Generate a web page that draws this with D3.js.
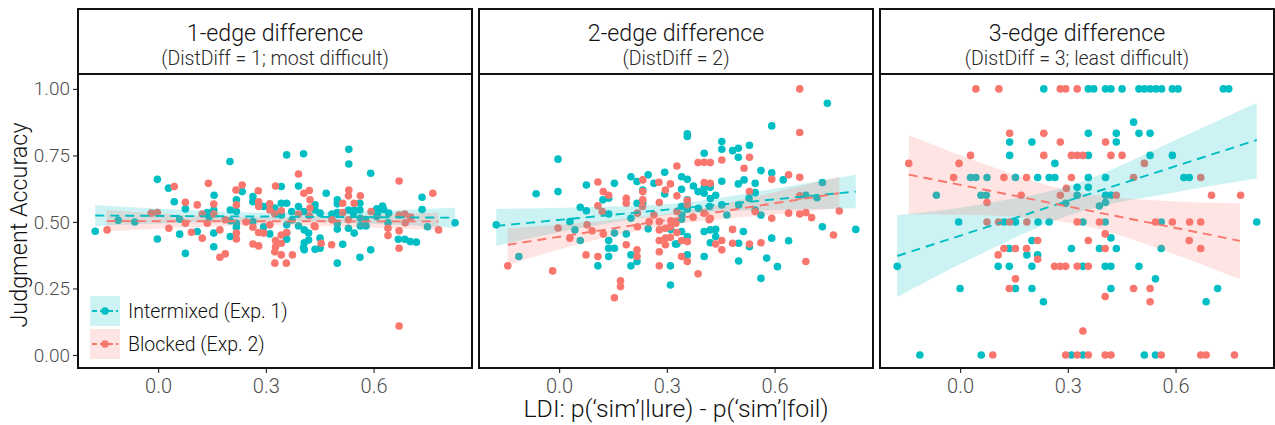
<!DOCTYPE html>
<html>
<head>
<meta charset="utf-8">
<script src="https://cdn.jsdelivr.net/npm/d3@7"></script>
<style>
  body { margin: 0; background: #fff; }
  svg text { font-family: Roboto, "Liberation Sans", sans-serif; font-weight: 300; }
</style>
</head>
<body>
<div id="chart"></div>
<script>
// ---- data ----
const panelTitles = ['1-edge difference', '2-edge difference', '3-edge difference'];
const panelSubtitles = ['(DistDiff = 1; most difficult)', '(DistDiff = 2)', '(DistDiff = 3; least difficult)'];
const seriesNames = ['Intermixed (Exp. 1)', 'Blocked (Exp. 2)'];
const xTicks = [0, 0.3, 0.6];
const yTicks = [0, 0.25, 0.5, 0.75, 1];

// [LDI, accuracy]
const p1Intermixed = [
  [-0.002,0.66],[0.029,0.627],[0.20,0.727],[0.156,0.60],[0.234,0.614],[0.264,0.595],[0.343,0.633],[0.358,0.752],
  [0.405,0.756],[0.391,0.635],[0.468,0.608],[0.531,0.773],[0.531,0.718],[0.592,0.683],[0.735,0.593],[0.045,0.576],
  [0.076,0.549],[0.155,0.545],[0.137,0.535],[0.142,0.518],[0.201,0.545],[0.218,0.539],[0.218,0.583],[0.264,0.576],
  [0.294,0.558],[0.325,0.552],[-0.175,0.465],[-0.111,0.506],[-0.065,0.50],[-0.002,0.436],[0.06,0.454],[0.109,0.464],
  [0.076,0.382],[0.155,0.458],[0.155,0.407],[0.201,0.445],[0.218,0.48],[0.218,0.495],[0.201,0.504],[0.264,0.501],
  [0.294,0.482],[0.311,0.455],[0.06,0.51],[0.735,0.547],[0.358,0.57],[0.372,0.539],[0.391,0.558],[0.406,0.539],
  [0.437,0.564],[0.437,0.545],[0.451,0.533],[0.484,0.53],[0.499,0.535],[0.358,0.489],[0.391,0.485],[0.499,0.583],
  [0.499,0.568],[0.562,0.57],[0.53,0.545],[0.546,0.545],[0.562,0.545],[0.609,0.549],[0.625,0.56],[0.827,0.497],
  [0.687,0.435],[0.719,0.424],[0.64,0.497],[0.563,0.485],[0.579,0.485],[0.546,0.458],[0.592,0.395],[0.562,0.367],
  [0.499,0.345],[0.514,0.416],[0.451,0.439],[0.451,0.401],[0.53,0.476],[0.499,0.473],[0.419,0.458],[0.419,0.432],
  [0.407,0.422],[0.407,0.395],[0.407,0.47],[0.343,0.57],[0.499,0.495],[0.577,0.508],[0.609,0.52],[0.544,0.533],
  [0.563,0.514],[0.628,0.547],[0.642,0.533],[0.611,0.533],[0.669,0.435],[0.702,0.426],[0.75,0.482],[0.358,0.458],
  [0.358,0.435],[0.405,0.403],[0.437,0.397],[0.343,0.526],[0.373,0.507]
];
const p1Blocked = [
  [0.045,0.633],[0.14,0.645],[0.217,0.62],[0.234,0.639],[0.279,0.617],[0.327,0.635],[0.391,0.68],[0.406,0.608],
  [0.421,0.618],[0.531,0.62],[0.563,0.598],[0.671,0.654],[0.765,0.608],[0.076,0.574],[0.109,0.564],[0.155,0.567],
  [0.155,0.53],[0.123,0.53],[0.218,0.564],[0.28,0.576],[0.28,0.558],[0.311,0.568],[0.311,0.545],[0.325,0.53],
  [-0.019,0.533],[-0.002,0.535],[-0.142,0.47],[0.03,0.476],[0.076,0.495],[0.093,0.461],[0.123,0.439],[0.137,0.495],
  [0.172,0.47],[0.172,0.367],[0.187,0.38],[0.218,0.436],[0.218,0.458],[0.187,0.508],[0.264,0.48],[0.264,0.417],
  [0.28,0.41],[0.28,0.46],[0.294,0.458],[0.311,0.489],[0.325,0.388],[0.325,0.345],[0.327,0.43],[0.343,0.376],
  [0.357,0.345],[0.374,0.376],[0.327,0.407],[0.421,0.523],[0.437,0.482],[0.454,0.42],[0.483,0.414],[0.53,0.508],
  [0.484,0.508],[0.514,0.535],[0.514,0.57],[0.546,0.57],[0.53,0.598],[0.593,0.539],[0.671,0.526],[0.687,0.53],
  [0.703,0.518],[0.781,0.47],[0.671,0.467],[0.671,0.401],[0.64,0.476],[0.64,0.449],[0.435,0.485],[0.423,0.583],
  [0.423,0.552],[0.391,0.53],[0.343,0.542],[0.343,0.451],[0.358,0.46],[0.343,0.42],[0.671,0.109],[0.688,0.497],
  [0.245,0.50]
];

const p2Intermixed = [
  [-0.003,0.736],[-0.064,0.606],[-0.003,0.614],[-0.175,0.489],[0.076,0.639],[0.059,0.555],[0.076,0.542],[0.03,0.501],
  [0.154,0.645],[0.122,0.583],[0.138,0.589],[0.138,0.53],[0.2,0.67],[0.217,0.652],[0.248,0.677],[0.233,0.62],
  [0.233,0.57],[0.217,0.57],[0.264,0.645],[0.294,0.687],[0.294,0.605],[0.2,0.514],[0.044,0.47],[0.059,0.43],
  [-0.112,0.37],[0.154,0.458],[0.138,0.43],[0.138,0.401],[0.154,0.401],[0.138,0.37],[0.187,0.455],[0.2,0.376],
  [0.217,0.351],[0.2,0.335],[0.248,0.474],[0.108,0.335],[0.31,0.263],[0.324,0.417],[0.31,0.335],[0.324,0.501],
  [0.747,0.946],[0.592,0.861],[0.357,0.831],[0.357,0.821],[0.453,0.802],[0.453,0.773],[0.483,0.768],[0.499,0.777],
  [0.53,0.788],[0.499,0.743],[0.404,0.758],[0.341,0.67],[0.357,0.66],[0.374,0.635],[0.341,0.623],[0.404,0.63],
  [0.404,0.608],[0.421,0.63],[0.421,0.588],[0.436,0.60],[0.387,0.614],[0.453,0.653],[0.499,0.643],[0.515,0.658],
  [0.546,0.645],[0.546,0.61],[0.562,0.693],[0.592,0.685],[0.624,0.658],[0.341,0.558],[0.357,0.583],[0.357,0.548],
  [0.419,0.558],[0.453,0.564],[0.529,0.589],[0.5,0.564],[0.467,0.526],[0.546,0.545],[0.562,0.526],[0.733,0.648],
  [0.687,0.60],[0.718,0.591],[0.733,0.482],[0.826,0.472],[0.341,0.51],[0.404,0.464],[0.421,0.47],[0.436,0.472],
  [0.436,0.445],[0.357,0.445],[0.341,0.464],[0.421,0.422],[0.513,0.464],[0.5,0.42],[0.53,0.407],[0.592,0.439],
  [0.639,0.429],[0.328,0.417],[0.357,0.376],[0.404,0.37],[0.5,0.353],[0.578,0.364],[0.608,0.332],[0.562,0.288],
  [0.311,0.472],[0.342,0.526],[0.388,0.551]
];
const p2Blocked = [
  [-0.143,0.335],[-0.018,0.316],[-0.003,0.477],[0.03,0.439],[0.075,0.376],[0.108,0.37],[0.108,0.561],[0.108,0.65],
  [0.123,0.614],[0.138,0.60],[0.078,0.489],[0.092,0.467],[0.123,0.455],[0.187,0.589],[0.187,0.57],[0.233,0.658],
  [0.233,0.614],[0.233,0.583],[0.278,0.649],[0.279,0.573],[0.31,0.643],[0.296,0.62],[0.264,0.526],[0.279,0.501],
  [0.296,0.476],[0.279,0.47],[0.31,0.482],[0.31,0.442],[0.296,0.439],[0.187,0.414],[0.217,0.395],[0.217,0.37],
  [0.279,0.43],[0.296,0.414],[0.279,0.388],[0.279,0.335],[0.171,0.279],[0.171,0.257],[0.154,0.215],[0.12,0.539],
  [0.218,0.482],[0.218,0.533],[0.232,0.558],[0.251,0.501],[0.418,0.508],[0.67,1.0],[0.67,0.836],[0.387,0.723],
  [0.404,0.724],[0.421,0.723],[0.453,0.733],[0.53,0.743],[0.515,0.702],[0.328,0.71],[0.404,0.648],[0.421,0.645],
  [0.53,0.614],[0.592,0.66],[0.639,0.677],[0.67,0.668],[0.328,0.598],[0.357,0.58],[0.357,0.564],[0.328,0.539],
  [0.373,0.518],[0.404,0.533],[0.421,0.514],[0.546,0.539],[0.592,0.514],[0.639,0.533],[0.67,0.53],[0.687,0.535],
  [0.703,0.516],[0.67,0.598],[0.78,0.541],[0.764,0.451],[0.328,0.46],[0.341,0.43],[0.357,0.426],[0.341,0.37],
  [0.357,0.351],[0.387,0.305],[0.436,0.417],[0.453,0.43],[0.453,0.395],[0.483,0.472],[0.483,0.42],[0.53,0.417],
  [0.562,0.422],[0.687,0.351],[0.311,0.504],[0.325,0.495]
];

const p3Intermixed = [
  [0.233,1],[0.357,1],[0.372,1],[0.405,1],[0.42,1],[0.451,1],[0.498,1],[0.513,1],[0.529,1],[0.545,1],[0.561,1],
  [0.591,1],[0.607,1],[0.733,1],[0.748,1],
  [0.483,0.875],[0.357,0.833],[0.435,0.833],[0.498,0.833],[0.529,0.833],
  [0.138,0.80],[0.2,0.80],[0.435,0.80],
  [0.138,0.75],[0.357,0.75],[0.529,0.75],[0.591,0.75],[0.264,0.72],
  [0.029,0.667],[0.044,0.667],[0.075,0.667],[0.154,0.667],[0.216,0.667],[0.248,0.667],[0.264,0.667],[0.357,0.667],
  [0.405,0.667],[0.623,0.667],[0.638,0.667],
  [0.326,0.63],[0.357,0.63],
  [-0.066,0.60],[0.058,0.60],[0.073,0.60],[0.326,0.60],[0.405,0.60],[0.42,0.60],
  [0.294,0.57],[0.405,0.573],[0.388,0.56],
  [-0.004,0.5],[0.123,0.5],[0.154,0.5],[0.217,0.5],[0.248,0.5],[0.342,0.5],[0.404,0.5],[0.56,0.5],[0.826,0.5],
  [0.2,0.43],[0.42,0.44],
  [0.137,0.4],[0.31,0.4],[0.388,0.4],[0.435,0.4],[0.56,0.4],
  [0.186,0.376],[0.216,0.376],
  [-0.175,0.333],[0.106,0.333],[0.137,0.333],[0.2,0.333],[0.342,0.333],[0.404,0.333],[0.42,0.333],[0.498,0.333],
  [0.544,0.286],
  [0,0.25],[0.154,0.25],[0.2,0.25],[0.42,0.25],[0.717,0.25],
  [0.232,0.2],[0.685,0.2],
  [-0.112,0],[0.059,0],[0.31,0],[0.342,0],[0.513,0],[0.544,0]
];
const p3Blocked = [
  [0.044,1],[0.108,1],[0.279,1],[0.294,1],[0.326,1],
  [0.138,0.833],[0.233,0.833],
  [0.279,0.80],[0.405,0.80],
  [0.029,0.75],[0.233,0.75],[0.31,0.75],[0.326,0.75],[0.342,0.75],[0.42,0.75],[0.451,0.75],
  [-0.143,0.72],[-0.003,0.72],[0.513,0.72],
  [-0.018,0.667],[0.122,0.667],[0.185,0.667],[0.31,0.667],[0.483,0.667],[0.67,0.667],
  [0.296,0.626],
  [0.17,0.6],[0.279,0.6],[0.435,0.6],[0.70,0.6],[0.781,0.6],
  [0.075,0.573],
  [0.075,0.5],[0.107,0.5],[0.138,0.5],[0.186,0.5],[0.326,0.5],[0.388,0.5],[0.544,0.5],[0.591,0.5],[0.639,0.5],[0.67,0.5],
  [0.404,0.455],[0.357,0.43],[0.638,0.43],[0.216,0.43],
  [0.122,0.4],[0.154,0.4],[0.185,0.4],[0.404,0.4],[0.67,0.4],
  [0.106,0.376],[0.216,0.36],
  [0.263,0.333],[0.279,0.333],[0.294,0.333],[0.326,0.333],[0.357,0.333],
  [0.154,0.286],
  [0.137,0.25],[0.483,0.25],[0.529,0.25],
  [0.404,0.22],[0.529,0.2],[0.342,0.09],
  [0.091,0],[0.294,0],[0.326,0],[0.357,0],[0.404,0],[0.42,0],[0.56,0],[0.67,0],[0.685,0],[0.764,0]
];

// linear fits with confidence band: [LDI, fit, lower, upper]
const p1IntermixedFit = [[-0.175,0.524,0.485,0.564],[0.05,0.522,0.497,0.547],[0.3,0.52,0.505,0.535],[0.55,0.518,0.496,0.540],[0.827,0.516,0.478,0.553]];
const p1BlockedFit = [[-0.143,0.503,0.464,0.545],[0.05,0.503,0.478,0.528],[0.3,0.503,0.488,0.517],[0.55,0.502,0.48,0.524],[0.78,0.502,0.47,0.535]];
const p2IntermixedFit = [[-0.175,0.485,0.41,0.549],[0.05,0.514,0.474,0.554],[0.33,0.55,0.53,0.57],[0.6,0.585,0.545,0.625],[0.826,0.614,0.551,0.677]];
const p2BlockedFit = [[-0.143,0.414,0.338,0.476],[0.05,0.455,0.415,0.495],[0.33,0.514,0.492,0.536],[0.6,0.57,0.528,0.612],[0.78,0.608,0.551,0.67]];
const p3IntermixedFit = [[-0.175,0.372,0.218,0.525],[0.05,0.47,0.375,0.565],[0.32,0.588,0.533,0.643],[0.6,0.71,0.612,0.808],[0.826,0.808,0.663,0.948]];
const p3BlockedFit = [[-0.143,0.678,0.529,0.827],[0.05,0.626,0.526,0.726],[0.32,0.553,0.493,0.613],[0.6,0.477,0.377,0.577],[0.779,0.429,0.285,0.57]];

// ---- layout ----
const W = 1275, H = 425;
const colors = ['#00BFC4', '#F8766D'];
const panelLefts = [78, 479, 880];
const panelWidth = 394;
const stripTop = 9, plotTop = 74, plotBottom = 368;

const panels = [
  { title: panelTitles[0], sub: panelSubtitles[0], series: [p1Intermixed, p1Blocked], fits: [p1IntermixedFit, p1BlockedFit] },
  { title: panelTitles[1], sub: panelSubtitles[1], series: [p2Intermixed, p2Blocked], fits: [p2IntermixedFit, p2BlockedFit] },
  { title: panelTitles[2], sub: panelSubtitles[2], series: [p3Intermixed, p3Blocked], fits: [p3IntermixedFit, p3BlockedFit] }
];

const svg = d3.select('#chart').append('svg')
  .attr('width', W).attr('height', H);

const y = d3.scaleLinear().domain([-0.049, 1.056]).range([plotBottom, plotTop]);

panels.forEach((p, i) => {
  const left = panelLefts[i];
  const x = d3.scaleLinear().domain([-0.223, 0.874]).range([left, left + panelWidth]);
  const g = svg.append('g');

  g.append('clipPath').attr('id', `clip${i}`)
    .append('rect')
    .attr('x', left).attr('y', plotTop)
    .attr('width', panelWidth).attr('height', plotBottom - plotTop);

  const plot = g.append('g').attr('clip-path', `url(#clip${i})`);

  // Points
  p.series.forEach((pts, s) => {
    plot.selectAll(`.pt${s}`)
      .data(pts)
      .enter()
      .append('circle')
      .attr('cx', d => x(d[0]))
      .attr('cy', d => y(d[1]))
      .attr('r', 3.8)
      .attr('fill', colors[s]);
  });

  // Confidence bands
  p.fits.forEach((f, s) => {
    plot.append('path')
      .datum(f)
      .attr('d', d3.area()
        .x(d => x(d[0]))
        .y0(d => y(d[2]))
        .y1(d => y(d[3]))
        .curve(d3.curveMonotoneX))
      .attr('fill', colors[s])
      .attr('fill-opacity', 0.2);
  });

  // Fit lines
  p.fits.forEach((f, s) => {
    plot.append('path')
      .datum([f[0], f[f.length - 1]])
      .attr('d', d3.line().x(d => x(d[0])).y(d => y(d[1])))
      .attr('fill', 'none')
      .attr('stroke', colors[s])
      .attr('stroke-width', 1.9)
      .attr('stroke-dasharray', '9,6');
  });

  // Panel border
  g.append('rect')
    .attr('x', left).attr('y', plotTop)
    .attr('width', panelWidth).attr('height', plotBottom - plotTop)
    .attr('fill', 'none').attr('stroke', '#111').attr('stroke-width', 2);

  // Strip
  g.append('rect')
    .attr('x', left).attr('y', stripTop)
    .attr('width', panelWidth).attr('height', plotTop - stripTop)
    .attr('fill', '#fff').attr('stroke', '#111').attr('stroke-width', 2);

  g.append('text')
    .attr('x', left + panelWidth / 2).attr('y', 41)
    .attr('text-anchor', 'middle')
    .style('font-size', '23.2px').style('fill', '#111')
    .text(p.title);

  g.append('text')
    .attr('x', left + panelWidth / 2).attr('y', 65)
    .attr('text-anchor', 'middle')
    .style('font-size', '19.5px').style('fill', '#2a2a2a')
    .text(p.sub);

  // X axis
  const xAxis = g.append('g')
    .attr('transform', `translate(0,${plotBottom + 1})`)
    .call(d3.axisBottom(x).tickValues(xTicks).tickFormat(d3.format('.1f')).tickSizeOuter(0).tickSize(4).tickPadding(6));
  xAxis.select('.domain').remove();
  xAxis.selectAll('.tick line').attr('stroke', '#333').attr('stroke-width', 1.2);
  xAxis.selectAll('.tick text').style('font-size', '20px').style('fill', '#4d4d4d').style('font-family', null);

  // Y axis on first panel only
  if (i === 0) {
    const yAxis = g.append('g')
      .attr('transform', `translate(${left - 1},0)`)
      .call(d3.axisLeft(y).tickValues(yTicks).tickFormat(d3.format('.2f')).tickSizeOuter(0).tickSize(4).tickPadding(3));
    yAxis.select('.domain').remove();
    yAxis.selectAll('.tick line').attr('stroke', '#333').attr('stroke-width', 1.2);
    yAxis.selectAll('.tick text').style('font-size', '19px').style('fill', '#4d4d4d').style('font-family', null);
  }
});

// Axis titles
svg.append('text')
  .attr('transform', `translate(27,${(plotTop + plotBottom) / 2 + 4}) rotate(-90)`)
  .attr('text-anchor', 'middle')
  .attr('textLength', 205).attr('lengthAdjust', 'spacingAndGlyphs')
  .style('font-size', '23px').style('fill', '#111')
  .text('Judgment Accuracy');

svg.append('text')
  .attr('x', panelLefts[1] + panelWidth / 2).attr('y', 417)
  .attr('text-anchor', 'middle')
  .attr('textLength', 305).attr('lengthAdjust', 'spacingAndGlyphs')
  .style('font-size', '23px').style('fill', '#111')
  .text('LDI: p(\u2018sim\u2019|lure) - p(\u2018sim\u2019|foil)');

// Legend (inside first panel)
const legend = svg.append('g').attr('transform', 'translate(90,296)');
seriesNames.forEach((name, s) => {
  const row = legend.append('g').attr('transform', `translate(0,${s * 33})`);
  row.append('rect')
    .attr('width', 30).attr('height', 30)
    .attr('fill', colors[s]).attr('fill-opacity', 0.2);
  row.append('line')
    .attr('x1', 2).attr('x2', 28).attr('y1', 15).attr('y2', 15)
    .attr('stroke', colors[s]).attr('stroke-width', 1.9).attr('stroke-dasharray', '5,3');
  row.append('circle')
    .attr('cx', 15).attr('cy', 15).attr('r', 3.8)
    .attr('fill', colors[s]);
  row.append('text')
    .attr('x', 38).attr('y', 15).attr('dy', '0.35em')
    .style('font-size', '19.5px').style('fill', '#111')
    .text(name);
});
</script>
</body>
</html>
